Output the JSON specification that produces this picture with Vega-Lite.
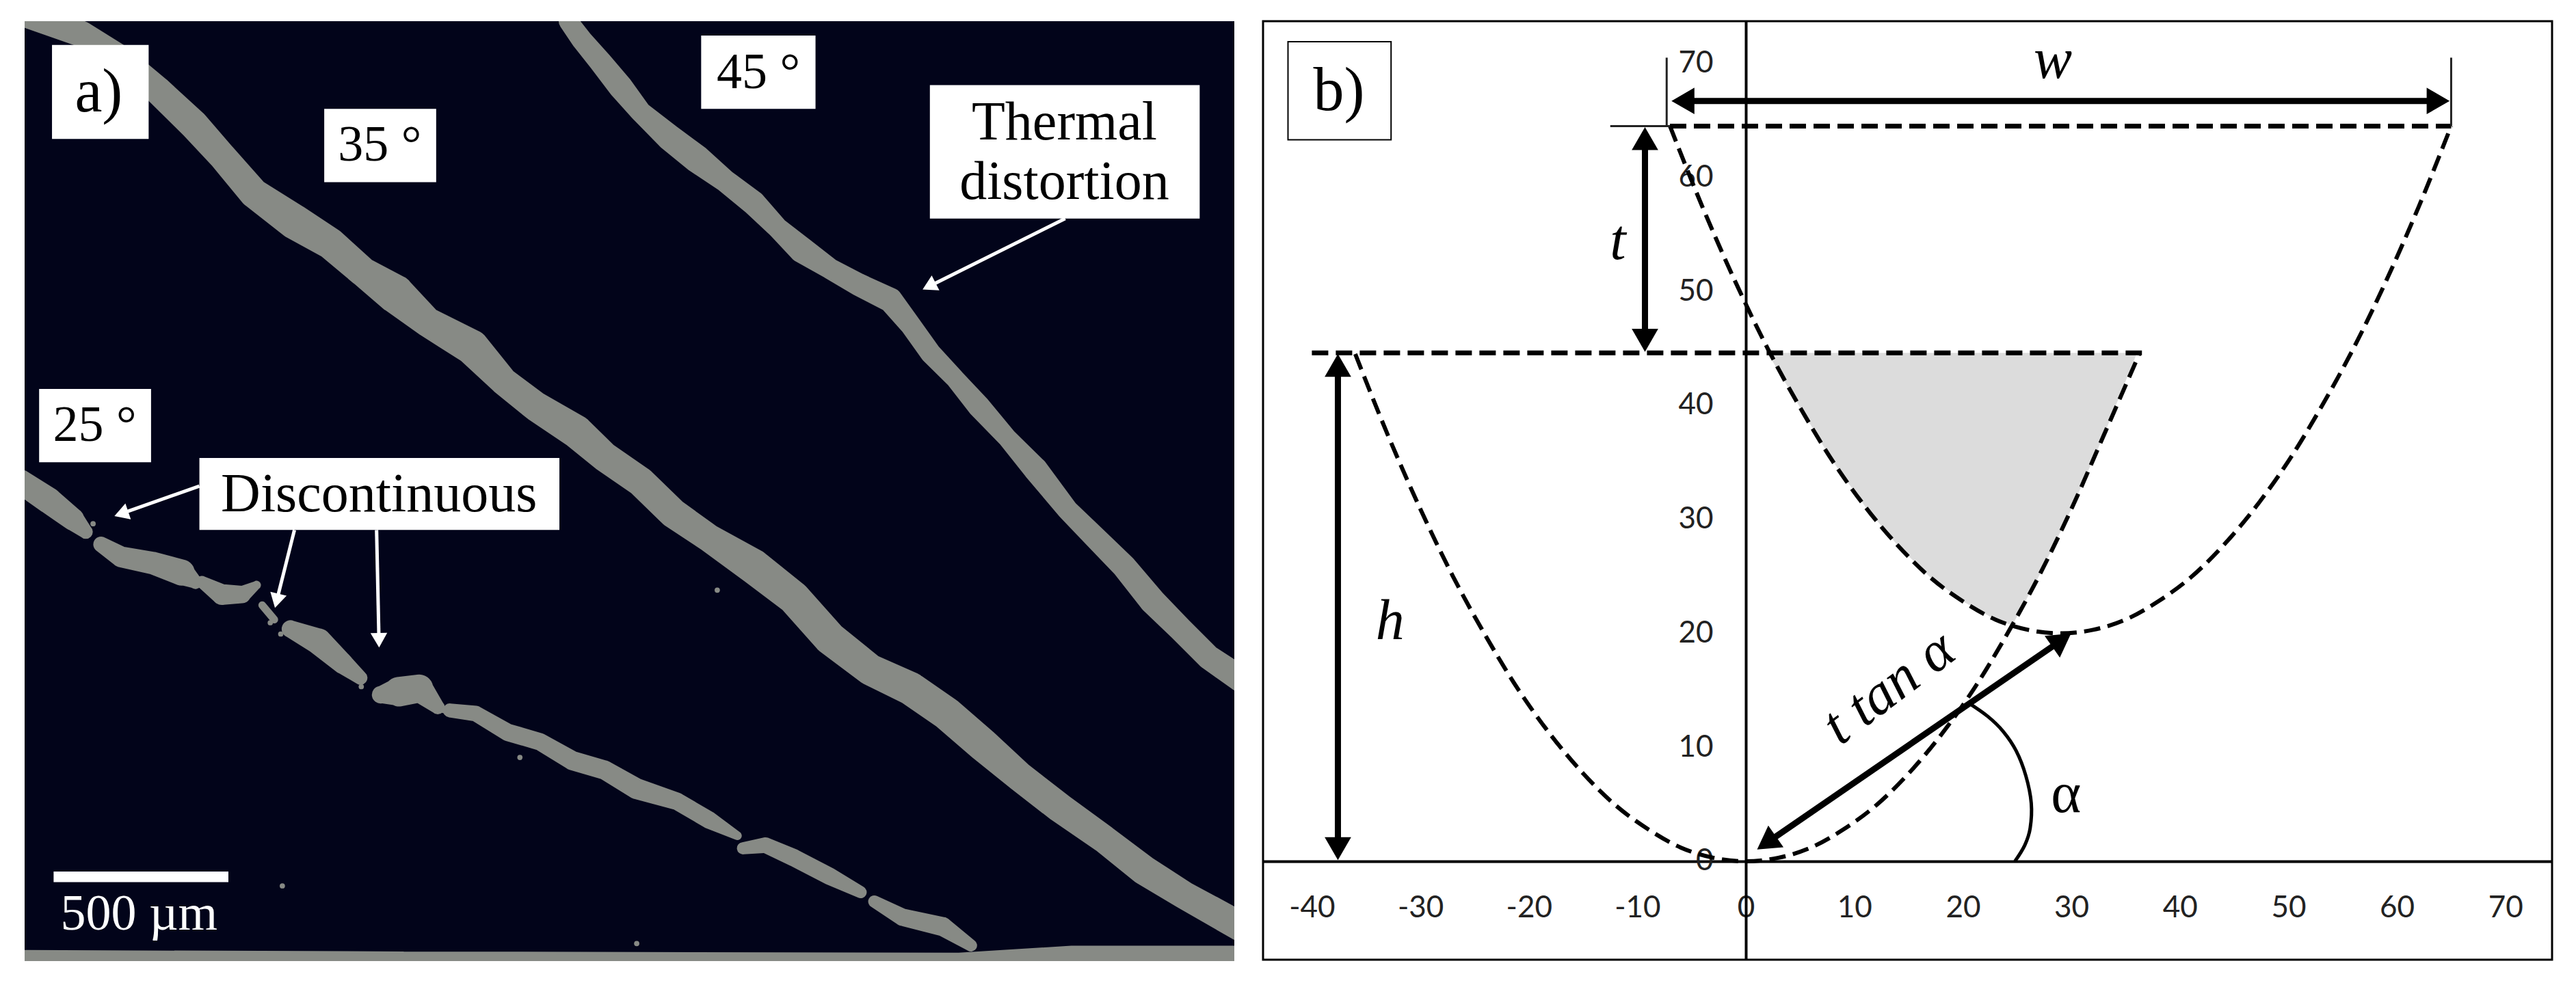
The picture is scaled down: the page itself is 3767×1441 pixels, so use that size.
{
  "$schema": "https://vega.github.io/schema/vega-lite/v6.json",
  "padding": {"left": 36, "top": 29, "right": 0, "bottom": 0},
  "background": "white",
  "spacing": 40,
  "config": {"view": {"stroke": null}},
  "datasets": {
    "tracks": [
      {"s":"t45","x":705,"y":30,"t":55},{"s":"t45","x":722,"y":60,"t":60},{"s":"t45","x":745,"y":95,"t":65},{"s":"t45","x":770,"y":135,"t":70},{"s":"t45","x":795,"y":175,"t":60},{"s":"t45","x":830,"y":215,"t":75},{"s":"t45","x":865,"y":250,"t":80},{"s":"t45","x":900,"y":285,"t":65},{"s":"t45","x":935,"y":320,"t":70},{"s":"t45","x":965,"y":360,"t":60},{"s":"t45","x":995,"y":395,"t":75},{"s":"t45","x":1030,"y":425,"t":60},{"s":"t45","x":1065,"y":450,"t":65},{"s":"t45","x":1105,"y":475,"t":70},{"s":"t45","x":1130,"y":515,"t":60},{"s":"t45","x":1155,"y":560,"t":60},{"s":"t45","x":1185,"y":600,"t":55},{"s":"t45","x":1215,"y":645,"t":65},{"s":"t45","x":1250,"y":695,"t":55},{"s":"t45","x":1285,"y":745,"t":70},{"s":"t45","x":1325,"y":810,"t":60},{"s":"t45","x":1360,"y":855,"t":65},{"s":"t45","x":1395,"y":900,"t":70},{"s":"t45","x":1430,"y":955,"t":75},{"s":"t45","x":1465,"y":1000,"t":70},{"s":"t45","x":1500,"y":1045,"t":70},{"s":"t45","x":1540,"y":1080,"t":75},
      {"s":"t35","x":30,"y":20,"t":70},{"s":"t35","x":100,"y":50,"t":75},{"s":"t35","x":150,"y":90,"t":75},{"s":"t35","x":195,"y":140,"t":80},{"s":"t35","x":240,"y":195,"t":85},{"s":"t35","x":275,"y":245,"t":80},{"s":"t35","x":315,"y":305,"t":85},{"s":"t35","x":365,"y":350,"t":100},{"s":"t35","x":410,"y":385,"t":90},{"s":"t35","x":450,"y":430,"t":85},{"s":"t35","x":490,"y":465,"t":110},{"s":"t35","x":530,"y":510,"t":85},{"s":"t35","x":585,"y":550,"t":100},{"s":"t35","x":625,"y":605,"t":80},{"s":"t35","x":665,"y":645,"t":85},{"s":"t35","x":715,"y":685,"t":95},{"s":"t35","x":750,"y":725,"t":85},{"s":"t35","x":795,"y":765,"t":85},{"s":"t35","x":835,"y":815,"t":85},{"s":"t35","x":880,"y":855,"t":80},{"s":"t35","x":935,"y":900,"t":100},{"s":"t35","x":985,"y":950,"t":95},{"s":"t35","x":1030,"y":1015,"t":95},{"s":"t35","x":1080,"y":1065,"t":90},{"s":"t35","x":1130,"y":1095,"t":95},{"s":"t35","x":1175,"y":1135,"t":95},{"s":"t35","x":1220,"y":1185,"t":95},{"s":"t35","x":1265,"y":1235,"t":85},{"s":"t35","x":1315,"y":1285,"t":85},{"s":"t35","x":1370,"y":1335,"t":80},{"s":"t35","x":1420,"y":1385,"t":85},{"s":"t35","x":1470,"y":1425,"t":80},{"s":"t35","x":1540,"y":1475,"t":85},
      {"s":"a1","x":25,"y":765,"t":70},{"s":"a1","x":60,"y":795,"t":75},{"s":"a1","x":90,"y":825,"t":65},{"s":"a1","x":106,"y":845,"t":40},
      {"s":"a2","x":125,"y":865,"t":45},{"s":"a2","x":150,"y":885,"t":60},{"s":"a2","x":190,"y":895,"t":65},{"s":"a2","x":225,"y":910,"t":75},{"s":"a2","x":242,"y":925,"t":40},
      {"s":"a3","x":250,"y":925,"t":35},{"s":"a3","x":275,"y":945,"t":60},{"s":"a3","x":300,"y":945,"t":50},{"s":"a3","x":318,"y":930,"t":25},
      {"s":"a4","x":325,"y":962,"t":22},{"s":"a4","x":340,"y":985,"t":22},
      {"s":"a5","x":360,"y":1000,"t":50},{"s":"a5","x":395,"y":1020,"t":75},{"s":"a5","x":425,"y":1055,"t":60},{"s":"a5","x":447,"y":1078,"t":40},
      {"s":"a6","x":472,"y":1105,"t":50},{"s":"a6","x":495,"y":1100,"t":85},{"s":"a6","x":520,"y":1095,"t":80},{"s":"a6","x":543,"y":1125,"t":40},
      {"s":"a7","x":558,"y":1130,"t":40},{"s":"a7","x":590,"y":1135,"t":45},{"s":"a7","x":630,"y":1165,"t":50},{"s":"a7","x":670,"y":1180,"t":50},{"s":"a7","x":710,"y":1210,"t":55},{"s":"a7","x":750,"y":1225,"t":55},{"s":"a7","x":790,"y":1255,"t":60},{"s":"a7","x":840,"y":1275,"t":50},{"s":"a7","x":880,"y":1305,"t":50},{"s":"a7","x":915,"y":1330,"t":25},
      {"s":"a8","x":922,"y":1350,"t":35},{"s":"a8","x":950,"y":1345,"t":45},{"s":"a8","x":985,"y":1365,"t":50},{"s":"a8","x":1030,"y":1395,"t":50},{"s":"a8","x":1068,"y":1420,"t":35},
      {"s":"a9","x":1085,"y":1435,"t":35},{"s":"a9","x":1120,"y":1460,"t":50},{"s":"a9","x":1170,"y":1475,"t":55},{"s":"a9","x":1205,"y":1505,"t":35},
      {"s":"base","x":25,"y":1522,"t":35},{"s":"base","x":500,"y":1523,"t":30},{"s":"base","x":1190,"y":1525,"t":30},{"s":"base","x":1330,"y":1518,"t":45},{"s":"base","x":1540,"y":1518,"t":45}
    ],
    "specks": [
      {"x":115,"y":832},{"x":335,"y":990},{"x":348,"y":1008},{"x":448,"y":1092},{"x":470,"y":1110},{"x":890,"y":938},{"x":350,"y":1410},{"x":790,"y":1502},{"x":645,"y":1205},{"x":550,"y":1130}
    ],
    "aBoxes": [
      {"x":64,"x2":184,"y":68,"y2":218},
      {"x":870,"x2":1012,"y":53,"y2":170},
      {"x":402,"x2":541,"y":170,"y2":287},
      {"x":48,"x2":187,"y":617,"y2":734},
      {"x":1154,"x2":1489,"y":132,"y2":345},
      {"x":247,"x2":694,"y":727,"y2":842},
      {"x":66,"x2":283,"y":1387,"y2":1404}
    ],
    "aTag": [{"x":122,"y":145,"label":"a)"}],
    "aWords": [
      {"x":1321,"y":192,"label":"Thermal"},
      {"x":1321,"y":287,"label":"distortion"},
      {"x":470,"y":786,"label":"Discontinuous"}
    ],
    "aShort": [
      {"x":941,"y":113,"label":"45 °","c":"black"},
      {"x":471,"y":229,"label":"35 °","c":"black"},
      {"x":117,"y":676,"label":"25 °","c":"black"},
      {"x":172,"y":1456,"label":"500 µm","c":"white"}
    ],
    "aArrows": [
      {"id":"a","x":1322,"y":345},{"id":"a","x":1155,"y":452},
      {"id":"b","x":247,"y":772},{"id":"b","x":152,"y":815},
      {"id":"c","x":365,"y":842},{"id":"c","x":343,"y":955},
      {"id":"d","x":467,"y":842},{"id":"d","x":470,"y":1020}
    ],
    "aHeads": [
      {"x":1153,"y":453,"dir":"a"},
      {"x":150,"y":816,"dir":"b"},
      {"x":343,"y":955,"dir":"c"},
      {"x":470,"y":1018,"dir":"d"}
    ],
    "fill": [
      {"x":2,"y":44.6,"y2":44.6},{"x":5,"y":39.8,"y2":44.6},{"x":8,"y":35.1,"y2":44.6},{"x":11,"y":31.1,"y2":44.6},{"x":14,"y":27.7,"y2":44.6},{"x":17,"y":24.9,"y2":44.6},{"x":20,"y":22.8,"y2":44.6},{"x":23,"y":21.2,"y2":44.6},{"x":24.55,"y":20.7,"y2":44.6},{"x":27,"y":25,"y2":44.6},{"x":30,"y":30.9,"y2":44.6},{"x":33,"y":37.4,"y2":44.6},{"x":36,"y":44.5,"y2":44.6}
    ],
    "curves": [
      {"c":"lower","x":-36,"y":44.5},{"c":"lower","x":-33,"y":37.4},{"c":"lower","x":-30,"y":30.9},{"c":"lower","x":-27,"y":25},{"c":"lower","x":-24,"y":19.8},{"c":"lower","x":-21,"y":15.1},{"c":"lower","x":-18,"y":11.1},{"c":"lower","x":-15,"y":7.7},{"c":"lower","x":-12,"y":4.9},{"c":"lower","x":-9,"y":2.8},{"c":"lower","x":-6,"y":1.2},{"c":"lower","x":-3,"y":0.3},{"c":"lower","x":0,"y":0},{"c":"lower","x":3,"y":0.3},{"c":"lower","x":6,"y":1.2},{"c":"lower","x":9,"y":2.8},{"c":"lower","x":12,"y":4.9},{"c":"lower","x":15,"y":7.7},{"c":"lower","x":18,"y":11.1},{"c":"lower","x":21,"y":15.1},{"c":"lower","x":24,"y":19.8},{"c":"lower","x":27,"y":25},{"c":"lower","x":30,"y":30.9},{"c":"lower","x":33,"y":37.4},{"c":"lower","x":36.3,"y":44.6},
      {"c":"upper","x":-7,"y":64.5},{"c":"upper","x":-4,"y":57.4},{"c":"upper","x":-1,"y":50.9},{"c":"upper","x":2,"y":45},{"c":"upper","x":5,"y":39.8},{"c":"upper","x":8,"y":35.1},{"c":"upper","x":11,"y":31.1},{"c":"upper","x":14,"y":27.7},{"c":"upper","x":17,"y":24.9},{"c":"upper","x":20,"y":22.8},{"c":"upper","x":23,"y":21.2},{"c":"upper","x":26,"y":20.3},{"c":"upper","x":29,"y":20},{"c":"upper","x":32,"y":20.3},{"c":"upper","x":35,"y":21.2},{"c":"upper","x":38,"y":22.8},{"c":"upper","x":41,"y":24.9},{"c":"upper","x":44,"y":27.7},{"c":"upper","x":47,"y":31.1},{"c":"upper","x":50,"y":35.1},{"c":"upper","x":53,"y":39.8},{"c":"upper","x":56,"y":45},{"c":"upper","x":59,"y":50.9},{"c":"upper","x":62,"y":57.4},{"c":"upper","x":65,"y":64.5}
    ],
    "flats": [
      {"c":"top","x":-7,"y":64.5},{"c":"top","x":65,"y":64.5},
      {"c":"mid","x":-40,"y":44.6},{"c":"mid","x":36.5,"y":44.6}
    ],
    "thin": [
      {"c":"wl","x":-7.3,"y":64.5},{"c":"wl","x":-7.3,"y":70.5},
      {"c":"wr","x":65,"y":64.5},{"c":"wr","x":65,"y":70.5},
      {"c":"tick","x":-12.5,"y":64.5},{"c":"tick","x":-7,"y":64.5}
    ],
    "arc": [
      {"x":20.5,"y":13.9},{"x":22.3,"y":12.7},{"x":23.7,"y":11.4},{"x":24.9,"y":9.7},{"x":25.8,"y":7.5},{"x":26.3,"y":5.1},{"x":26.2,"y":2.9},{"x":25.7,"y":1.4},{"x":24.8,"y":0}
    ],
    "arrows": [
      {"id":"w","x":-5.8,"y":66.7},{"id":"w","x":63.8,"y":66.7},
      {"id":"t","x":-9.3,"y":45.7},{"id":"t","x":-9.3,"y":63.4},
      {"id":"h","x":-37.6,"y":1.1},{"id":"h","x":-37.6,"y":43.5},
      {"id":"d","x":1.9,"y":1.6},{"id":"d","x":29.1,"y":19.4}
    ],
    "heads": [
      {"x":-5.8,"y":66.7,"dir":"left"},{"x":63.8,"y":66.7,"dir":"right"},
      {"x":-9.3,"y":45.7,"dir":"down"},{"x":-9.3,"y":63.4,"dir":"up"},
      {"x":-37.6,"y":1.1,"dir":"down"},{"x":-37.6,"y":43.5,"dir":"up"},
      {"x":1.9,"y":1.6,"dir":"sw"},{"x":29.1,"y":19.4,"dir":"ne"}
    ],
    "box": [{"x":-42.2,"x2":-32.7,"y":71.9,"y2":63.3}],
    "bLabels": [{"x":-37.5,"y":67.5,"label":"b)"}],
    "alpha": [{"x":29.5,"y":5.8,"label":"α"}],
    "math": [
      {"x":28.3,"y":70.2,"label":"w"},
      {"x":-11.8,"y":54.3,"label":"t"},
      {"x":-32.8,"y":21,"label":"h"}
    ],
    "rotated": [{"x":13.2,"y":15.2,"label":"t tan α"}]
  },
  "hconcat": [
    {
      "width": 1769,
      "height": 1375,
      "view": {"fill": "#02041a", "stroke": null},
      "encoding": {
        "x": {"field": "x", "type": "quantitative", "scale": {"domain": [30, 1532], "nice": false}, "axis": null},
        "y": {"field": "y", "type": "quantitative", "scale": {"domain": [1530, 30], "nice": false}, "axis": null}
      },
      "layer": [
        {
          "data": {"name": "tracks"},
          "mark": {"type": "trail", "color": "#878a85", "clip": true},
          "encoding": {
            "detail": {"field": "s", "type": "nominal"},
            "size": {"field": "t", "type": "quantitative", "scale": {"domain": [0, 100], "range": [0, 51]}, "legend": null}
          }
        },
        {
          "data": {"name": "specks"},
          "mark": {"type": "circle", "color": "#878a85", "size": 60, "opacity": 1}
        },
        {
          "data": {"name": "aBoxes"},
          "mark": {"type": "rect", "color": "white"},
          "encoding": {"x2": {"field": "x2"}, "y2": {"field": "y2"}}
        },
        {
          "data": {"name": "aTag"},
          "mark": {"type": "text", "font": "Liberation Serif", "fontSize": 90, "color": "black", "align": "center", "baseline": "middle"},
          "encoding": {"text": {"field": "label"}}
        },
        {
          "data": {"name": "aWords"},
          "mark": {"type": "text", "font": "Liberation Serif", "fontSize": 80, "color": "black", "align": "center", "baseline": "middle"},
          "encoding": {"text": {"field": "label"}}
        },
        {
          "data": {"name": "aShort"},
          "mark": {"type": "text", "font": "Liberation Serif", "fontSize": 74, "align": "center", "baseline": "middle"},
          "encoding": {
            "text": {"field": "label"},
            "color": {"field": "c", "type": "nominal", "scale": null}
          }
        },
        {
          "data": {"name": "aArrows"},
          "mark": {"type": "line", "color": "white", "strokeWidth": 5},
          "encoding": {"detail": {"field": "id"}}
        },
        {
          "data": {"name": "aHeads"},
          "transform": [{"filter": "datum.dir == 'a'"}],
          "mark": {"type": "point", "shape": "triangle-up", "filled": true, "color": "white", "opacity": 1, "size": 600, "angle": 243}
        },
        {
          "data": {"name": "aHeads"},
          "transform": [{"filter": "datum.dir == 'b'"}],
          "mark": {"type": "point", "shape": "triangle-up", "filled": true, "color": "white", "opacity": 1, "size": 600, "angle": 251}
        },
        {
          "data": {"name": "aHeads"},
          "transform": [{"filter": "datum.dir == 'c'"}],
          "mark": {"type": "point", "shape": "triangle-up", "filled": true, "color": "white", "opacity": 1, "size": 600, "angle": 194}
        },
        {
          "data": {"name": "aHeads"},
          "transform": [{"filter": "datum.dir == 'd'"}],
          "mark": {"type": "point", "shape": "triangle-up", "filled": true, "color": "white", "opacity": 1, "size": 600, "angle": 179}
        }
      ]
    },
    {
      "width": 1885,
      "height": 1373,
      "view": {"fill": "white", "stroke": "black", "strokeWidth": 3},
      "encoding": {
        "x": {
          "field": "x", "type": "quantitative",
          "scale": {"domain": [-44.5, 74.3], "nice": false},
          "axis": {"title": null, "values": [-40, -30, -20, -10, 0, 10, 20, 30, 40, 50, 60, 70], "labelExpr": "'' + datum.value", "orient": "bottom", "offset": -144, "grid": false, "ticks": false, "labelPadding": 46, "labelFont": "Lato", "labelFontSize": 44, "labelColor": "#222222", "domainColor": "black", "domainWidth": 4, "labelOverlap": false, "labelFlush": false}
        },
        "y": {
          "field": "y", "type": "quantitative",
          "scale": {"domain": [-8.64, 73.7], "nice": false},
          "axis": {"title": null, "values": [0, 10, 20, 30, 40, 50, 60, 70], "orient": "left", "offset": -706, "grid": false, "ticks": false, "labelPadding": 48, "labelFont": "Lato", "labelFontSize": 44, "labelColor": "#222222", "domainColor": "black", "domainWidth": 4, "labelOverlap": false, "labelFlush": false}
        }
      },
      "layer": [
        {
          "data": {"name": "fill"},
          "mark": {"type": "area", "color": "#dcdcdc", "opacity": 1},
          "encoding": {"y2": {"field": "y2"}}
        },
        {
          "data": {"name": "curves"},
          "mark": {"type": "line", "color": "black", "strokeWidth": 6, "strokeDash": [24, 11], "interpolate": "monotone"},
          "encoding": {"detail": {"field": "c"}}
        },
        {
          "data": {"name": "flats"},
          "mark": {"type": "line", "color": "black", "strokeWidth": 7, "strokeDash": [24, 11]},
          "encoding": {"detail": {"field": "c"}}
        },
        {
          "data": {"name": "thin"},
          "mark": {"type": "line", "color": "#222222", "strokeWidth": 3},
          "encoding": {"detail": {"field": "c"}, "order": {"field": "y"}}
        },
        {
          "data": {"name": "arc"},
          "mark": {"type": "line", "color": "black", "strokeWidth": 5, "interpolate": "cardinal"},
          "encoding": {"order": {"field": "y", "sort": "descending"}}
        },
        {
          "data": {"name": "arrows"},
          "mark": {"type": "line", "color": "black", "strokeWidth": 9},
          "encoding": {"detail": {"field": "id"}, "order": {"field": "y"}}
        },
        {
          "data": {"name": "heads"},
          "transform": [{"filter": "datum.dir == 'up'"}],
          "mark": {"type": "point", "shape": "triangle-up", "filled": true, "color": "black", "opacity": 1, "size": 1500, "angle": 0}
        },
        {
          "data": {"name": "heads"},
          "transform": [{"filter": "datum.dir == 'down'"}],
          "mark": {"type": "point", "shape": "triangle-up", "filled": true, "color": "black", "opacity": 1, "size": 1500, "angle": 180}
        },
        {
          "data": {"name": "heads"},
          "transform": [{"filter": "datum.dir == 'left'"}],
          "mark": {"type": "point", "shape": "triangle-up", "filled": true, "color": "black", "opacity": 1, "size": 1500, "angle": 270}
        },
        {
          "data": {"name": "heads"},
          "transform": [{"filter": "datum.dir == 'right'"}],
          "mark": {"type": "point", "shape": "triangle-up", "filled": true, "color": "black", "opacity": 1, "size": 1500, "angle": 90}
        },
        {
          "data": {"name": "heads"},
          "transform": [{"filter": "datum.dir == 'ne'"}],
          "mark": {"type": "point", "shape": "triangle-up", "filled": true, "color": "black", "opacity": 1, "size": 1500, "angle": 55}
        },
        {
          "data": {"name": "heads"},
          "transform": [{"filter": "datum.dir == 'sw'"}],
          "mark": {"type": "point", "shape": "triangle-up", "filled": true, "color": "black", "opacity": 1, "size": 1500, "angle": 235}
        },
        {
          "data": {"name": "box"},
          "mark": {"type": "rect", "fill": "white", "stroke": "black", "strokeWidth": 2},
          "encoding": {"x2": {"field": "x2"}, "y2": {"field": "y2"}}
        },
        {
          "data": {"name": "bLabels"},
          "mark": {"type": "text", "font": "Liberation Serif", "fontSize": 90, "color": "black", "align": "center", "baseline": "middle"},
          "encoding": {"text": {"field": "label"}}
        },
        {
          "data": {"name": "alpha"},
          "mark": {"type": "text", "font": "Liberation Serif", "fontSize": 84, "color": "black", "align": "center", "baseline": "middle"},
          "encoding": {"text": {"field": "label"}}
        },
        {
          "data": {"name": "math"},
          "mark": {"type": "text", "font": "Liberation Serif", "fontStyle": "italic", "fontSize": 84, "color": "black", "align": "center", "baseline": "middle"},
          "encoding": {"text": {"field": "label"}}
        },
        {
          "data": {"name": "rotated"},
          "mark": {"type": "text", "font": "Liberation Serif", "fontStyle": "italic", "fontSize": 84, "color": "black", "align": "center", "baseline": "middle", "angle": 323},
          "encoding": {"text": {"field": "label"}}
        }
      ]
    }
  ]
}
